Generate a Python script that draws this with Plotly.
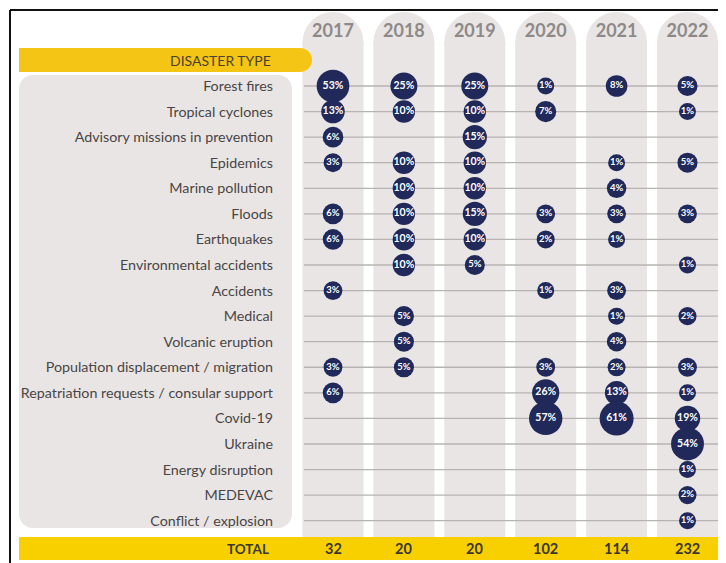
import math
import plotly.graph_objects as go

# the page body adds an 8px margin, so the figure is 8px smaller and
# all layout numbers below are in screen pixels, shifted by OFF
OFF = 8
W, H = 726 - OFF, 563 - OFF

years = ["2017", "2018", "2019", "2020", "2021", "2022"]
totals = [32, 20, 20, 102, 114, 232]
disaster_types = [
    "Forest fires", "Tropical cyclones", "Advisory missions in prevention", "Epidemics",
    "Marine pollution", "Floods", "Earthquakes", "Environmental accidents", "Accidents",
    "Medical", "Volcanic eruption", "Population displacement / migration",
    "Repatriation requests / consular support", "Covid-19", "Ukraine",
    "Energy disruption", "MEDEVAC", "Conflict / explosion",
]
# share of missions per disaster type in %, None = nothing that year
pct_2017 = [53, 13, 6, 3, None, 6, 6, None, 3, None, None, 3, 6, None, None, None, None, None]
pct_2018 = [25, 10, None, 10, 10, 10, 10, 10, None, 5, 5, 5, None, None, None, None, None, None]
pct_2019 = [25, 10, 15, 10, 10, 15, 10, 5, None, None, None, None, None, None, None, None, None, None]
pct_2020 = [1, 7, None, None, None, 3, 2, None, 1, None, None, 3, 26, 57, None, None, None, None]
pct_2021 = [8, None, None, 1, 4, 3, 1, None, 3, 1, 4, 2, 13, 61, None, None, None, None]
pct_2022 = [5, 1, None, 5, None, 3, None, 1, None, 2, None, 3, 1, 19, 54, 1, 2, 1]

NAVY = "#20295a"
YELLOW_TOP = "#f4c514"
YELLOW_TOT = "#f8d000"
PILL = "#e8e5e4"
LABEL = "#4a4544"
FONT = "Lato"

# screen-pixel layout of the grid
COL0, COL_STEP = 333, 70.9
ROW0, ROW_STEP = 86, 25.57


def xd(p):  # screen px -> x data units
    return (p - COL0) / COL_STEP


def yd(p):  # screen px -> y data units
    return (p - ROW0) / ROW_STEP


def px(x):
    return (x - OFF) / W


def py(y):
    return 1 - (y - OFF) / H


def rounded_path(x0, y0, x1, y1, r, left=True):
    k = 0.5523 * r
    pts = []
    pts.append(f"M{px(x0 + (r if left else 0))},{py(y0)}")
    pts.append(f"L{px(x1 - r)},{py(y0)}")
    pts.append(f"C{px(x1 - r + k)},{py(y0)} {px(x1)},{py(y0 + r - k)} {px(x1)},{py(y0 + r)}")
    pts.append(f"L{px(x1)},{py(y1 - r)}")
    pts.append(f"C{px(x1)},{py(y1 - r + k)} {px(x1 - r + k)},{py(y1)} {px(x1 - r)},{py(y1)}")
    if left:
        pts.append(f"L{px(x0 + r)},{py(y1)}")
        pts.append(f"C{px(x0 + r - k)},{py(y1)} {px(x0)},{py(y1 - r + k)} {px(x0)},{py(y1 - r)}")
        pts.append(f"L{px(x0)},{py(y0 + r)}")
        pts.append(f"C{px(x0)},{py(y0 + r - k)} {px(x0 + r - k)},{py(y0)} {px(x0 + r)},{py(y0)}")
    else:
        pts.append(f"L{px(x0)},{py(y1)}")
    pts.append("Z")
    return " ".join(pts)


shapes = []
# frame
shapes.append(dict(type="line", xref="paper", yref="paper", x0=px(10), x1=1, y0=py(10), y1=py(10),
                   line=dict(color="#111111", width=2)))
shapes.append(dict(type="line", xref="paper", yref="paper", x0=px(10), x1=px(10), y0=py(10), y1=0,
                   line=dict(color="#111111", width=2)))

# label panel
shapes.append(dict(type="path", xref="paper", yref="paper", path=rounded_path(19, 75, 292, 528, 14),
                   fillcolor=PILL, line_width=0, layer="below"))

# year pills
half = 30.5 / COL_STEP
for i in range(len(years)):
    shapes.append(dict(type="circle", xref="x", yref="y", x0=i - half, x1=i + half,
                       y0=yd(12), y1=yd(73), fillcolor=PILL, line_width=0, layer="below"))
    shapes.append(dict(type="rect", xref="x", yref="y", x0=i - half, x1=i + half,
                       y0=yd(42), y1=yd(537), fillcolor=PILL, line_width=0, layer="below"))

# row guide lines
for j in range(len(disaster_types)):
    shapes.append(dict(type="line", xref="x", yref="y", x0=xd(304), x1=xd(718), y0=j, y1=j,
                       line=dict(color="#b7b3b1", width=1.3), layer="below"))

# yellow bars
shapes.append(dict(type="path", xref="paper", yref="paper",
                   path=rounded_path(19, 48, 312, 72, 12, left=False),
                   fillcolor=YELLOW_TOP, line_width=0, layer="above"))
shapes.append(dict(type="rect", xref="paper", yref="paper", x0=px(19), x1=1, y0=py(560), y1=py(537),
                   fillcolor=YELLOW_TOT, line_width=0, layer="above"))

series = [pct_2017, pct_2018, pct_2019, pct_2020, pct_2021, pct_2022]
bx, by, bs, bt, bf = [], [], [], [], []
for i, vals in enumerate(series):
    for j, v in enumerate(vals):
        if v is None:
            continue
        bx.append(i)
        by.append(j)
        bs.append(14.5 + 2.5 * math.sqrt(v))
        bt.append(f"{v}%")
        bf.append(10.5 if v >= 10 else 9.5)

fig = go.Figure()
fig.add_trace(go.Scatter(
    x=bx, y=by, mode="markers+text", text=bt, textposition="middle center",
    marker=dict(size=bs, sizemode="diameter", color=NAVY, line_width=0, opacity=1),
    textfont=dict(family=FONT, size=bf, color="white", weight="bold"),
    cliponaxis=False, hoverinfo="skip"))

fig.add_trace(go.Scatter(
    x=list(range(len(years))), y=[yd(32)] * len(years), mode="text", text=years,
    textfont=dict(family=FONT, size=18, color="#8e8988", weight="bold"),
    cliponaxis=False, hoverinfo="skip"))

fig.add_annotation(text="DISASTER TYPE", xref="paper", yref="paper", x=px(273), y=py(60),
                   xanchor="right", yanchor="middle", showarrow=False,
                   font=dict(family=FONT, size=14, color="#4a4133"))
fig.add_annotation(text="<b>TOTAL</b>", xref="paper", yref="paper", x=px(271), y=py(548.5),
                   xanchor="right", yanchor="middle", showarrow=False,
                   font=dict(family=FONT, size=13.5, color="#3a372f"))
for i, t in enumerate(totals):
    fig.add_annotation(text=f"<b>{t}</b>", xref="x", yref="paper", x=i, y=py(548.5),
                       xanchor="center", yanchor="middle", showarrow=False,
                       font=dict(family=FONT, size=14.5, color="#3a372f"))

fig.update_layout(
    width=W, height=H, margin=dict(l=0, r=0, t=0, b=0), autosize=False,
    paper_bgcolor="white", plot_bgcolor="white", showlegend=False, hovermode=False,
    shapes=shapes,
    xaxis=dict(range=[xd(OFF), xd(OFF + W)], domain=[0, 1],
               showgrid=False, zeroline=False, showticklabels=False, showline=False),
    yaxis=dict(range=[yd(OFF + H), yd(OFF)], domain=[0, 1],
               anchor="free", position=px(273), side="left",
               tickvals=list(range(len(disaster_types))), ticktext=disaster_types,
               ticks="", ticklen=0, showgrid=False, zeroline=False, showline=False,
               tickfont=dict(family=FONT, size=14.3, color=LABEL)),
)

fig.write_html("out.html")
